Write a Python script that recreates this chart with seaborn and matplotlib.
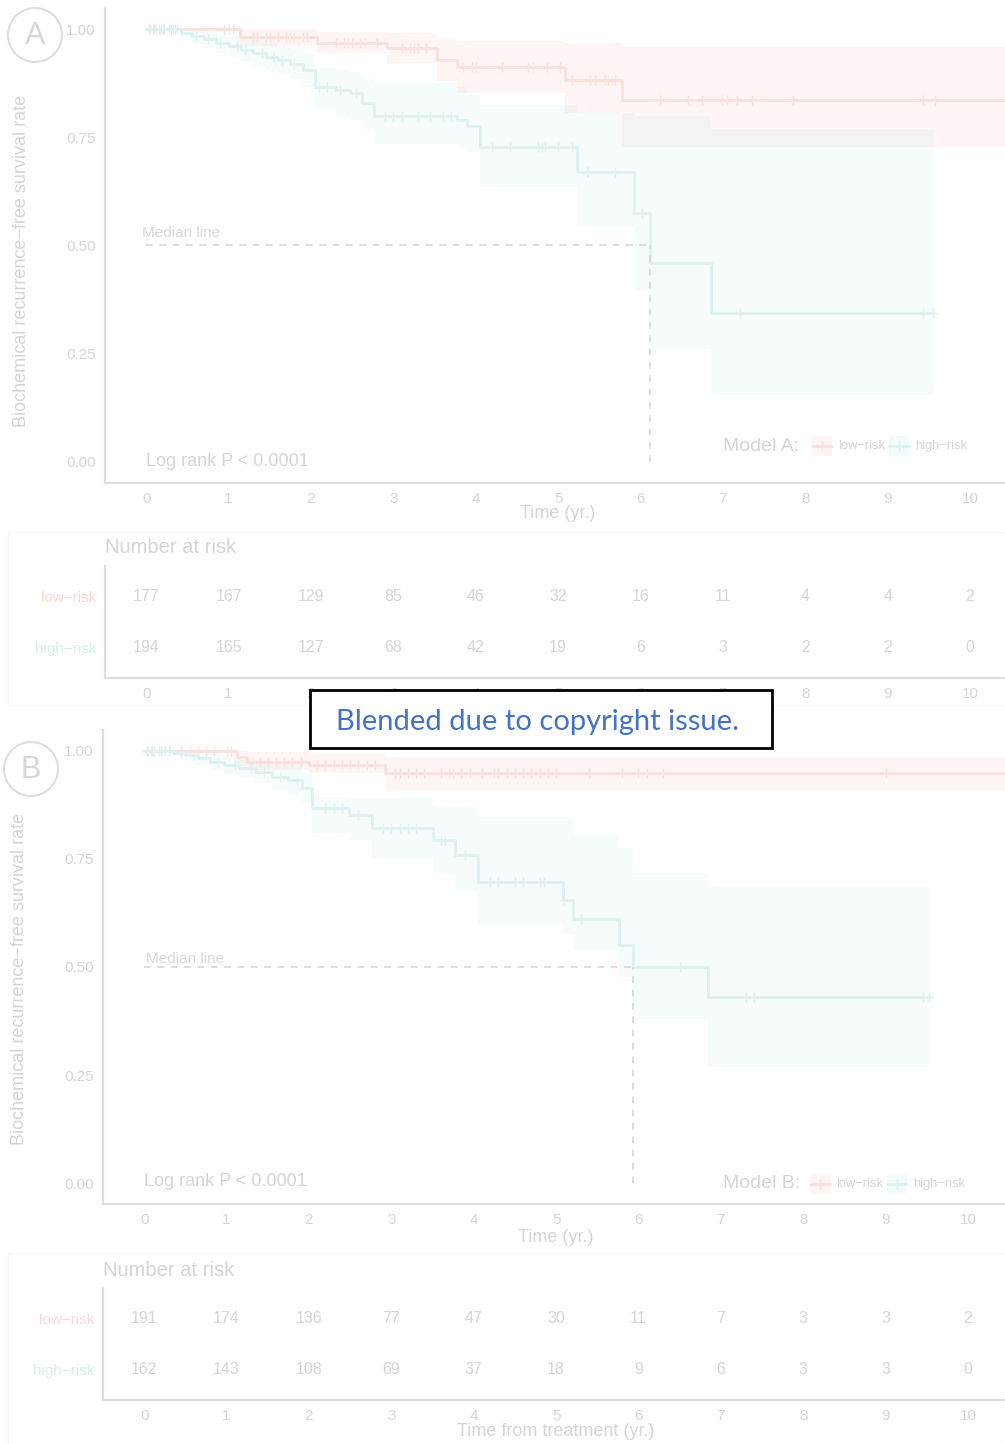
import numpy as np
import matplotlib.pyplot as plt
import seaborn as sns
from matplotlib.patches import Rectangle, Ellipse

sns.set_style("white")
plt.rcParams['font.family'] = ['Liberation Sans', 'DejaVu Sans']

# ---------------- data ----------------
years = list(range(0, 11))

# Model A, low-risk
a_low_t = [0, 1.14, 2.07, 2.92, 3.53, 3.77, 5.08, 5.78]
a_low_s = [1.0, 0.982, 0.967, 0.957, 0.928, 0.913, 0.882, 0.836]
a_low_lo = [1.0, 0.960, 0.945, 0.921, 0.880, 0.853, 0.806, 0.727]
a_low_hi = [1.0, 1.0, 0.993, 0.990, 0.979, 0.973, 0.967, 0.958]
a_low_end = 10.6
a_low_cens = [0.05, 0.1, 0.15, 0.2, 0.3, 0.35, 0.95, 1.0, 1.05, 1.3, 1.35, 1.45, 1.5,
              1.6, 1.7, 1.75, 1.8, 1.9, 1.95, 2.3, 2.4, 2.45, 2.5, 2.6, 2.65, 2.8,
              3.1, 3.2, 3.25, 3.3, 3.4, 3.85, 3.95, 4.0, 4.32, 4.64, 4.7, 4.87, 5.02,
              5.17, 5.39, 5.45, 5.57, 5.61, 5.66, 5.69, 6.24, 6.58, 6.75, 6.99, 7.05,
              7.17, 7.35, 7.85, 9.43, 9.57]

# Model A, high-risk
a_high_t = [0, 0.42, 0.55, 0.7, 0.85, 1.0, 1.15, 1.3, 1.45, 1.6, 1.75, 1.9, 2.05,
            2.3, 2.48, 2.62, 2.76, 3.77, 3.9, 4.05, 5.23, 5.92, 6.12, 6.86]
a_high_s = [1.0, 0.99, 0.983, 0.976, 0.968, 0.96, 0.952, 0.944, 0.936, 0.928, 0.92,
            0.905, 0.866, 0.858, 0.852, 0.83, 0.80, 0.79, 0.775, 0.727, 0.67, 0.575,
            0.46, 0.344]
a_high_lo = [1.0, 0.975, 0.965, 0.955, 0.945, 0.935, 0.925, 0.915, 0.905, 0.895,
             0.885, 0.865, 0.815, 0.80, 0.79, 0.77, 0.735, 0.725, 0.715, 0.635,
             0.545, 0.397, 0.26, 0.155]
a_high_hi = [1.0, 1.0, 0.998, 0.995, 0.99, 0.985, 0.98, 0.975, 0.968, 0.96, 0.952,
             0.94, 0.91, 0.905, 0.90, 0.885, 0.875, 0.865, 0.85, 0.825, 0.806, 0.80,
             0.80, 0.77]
a_high_end = 9.55
a_high_cens = [0.03, 0.08, 0.12, 0.18, 0.22, 0.28, 0.33, 0.38, 0.6, 0.75, 0.9, 1.1,
               1.2, 1.4, 1.55, 1.65, 1.8, 2.1, 2.2, 2.35, 2.55, 2.9, 3.0, 3.1, 3.3,
               3.45, 3.6, 3.7, 4.2, 4.42, 4.75, 4.81, 4.84, 5.0, 5.17, 5.35, 5.36,
               5.69, 6.02, 7.21, 9.43, 9.55]

a_low_risk = [177, 167, 129, 85, 46, 32, 16, 11, 4, 4, 2]
a_high_risk = [194, 165, 127, 68, 42, 19, 6, 3, 2, 2, 0]

# Model B, low-risk
b_low_t = [0, 1.13, 1.25, 2.0, 2.92]
b_low_s = [1.0, 0.985, 0.975, 0.968, 0.949]
b_low_lo = [1.0, 0.965, 0.955, 0.950, 0.910]
b_low_hi = [1.0, 1.0, 0.998, 0.994, 0.986]
b_low_end = 10.6
b_low_cens = [0.05, 0.1, 0.2, 0.3, 0.45, 0.55, 0.65, 0.75, 0.85, 1.0, 1.05, 1.4, 1.5,
              1.6, 1.7, 1.8, 1.9, 2.1, 2.2, 2.3, 2.4, 2.5, 2.6, 2.7, 2.8, 3.05, 3.1,
              3.2, 3.3, 3.4, 3.6, 3.7, 3.75, 3.85, 3.95, 4.1, 4.25, 4.3, 4.4, 4.5,
              4.6, 4.7, 4.8, 4.9, 5.0, 5.4, 5.8, 6.0, 6.1, 6.3, 9.0]

# Model B, high-risk
b_high_t = [0, 0.35, 0.5, 0.65, 0.8, 0.97, 1.15, 1.35, 1.55, 1.75, 1.92, 2.04, 2.49,
            2.77, 3.5, 3.77, 4.05, 5.08, 5.21, 5.76, 5.93, 6.84]
b_high_s = [1.0, 0.995, 0.99, 0.983, 0.975, 0.967, 0.96, 0.952, 0.94, 0.932, 0.915,
            0.868, 0.852, 0.822, 0.794, 0.76, 0.697, 0.656, 0.61, 0.552, 0.499, 0.43]
b_high_lo = [1.0, 0.985, 0.977, 0.968, 0.957, 0.947, 0.937, 0.926, 0.91, 0.90, 0.88,
             0.81, 0.794, 0.753, 0.718, 0.675, 0.598, 0.575, 0.54, 0.478, 0.38, 0.268]
b_high_hi = [1.0, 1.0, 1.0, 0.998, 0.994, 0.988, 0.983, 0.978, 0.97, 0.964, 0.95,
             0.894, 0.89, 0.89, 0.87, 0.87, 0.848, 0.848, 0.806, 0.776, 0.718, 0.686]
b_high_end = 9.53
b_high_cens = [0.03, 0.08, 0.12, 0.18, 0.25, 0.45, 0.6, 0.9, 1.1, 1.3, 1.45, 1.65,
               1.85, 2.2, 2.3, 2.4, 2.6, 2.9, 3.0, 3.1, 3.2, 3.3, 3.6, 3.65, 3.9, 4.2,
               4.3, 4.5, 4.6, 4.8, 4.85, 5.1, 5.3, 6.5, 7.3, 7.4, 9.45, 9.53]

b_low_risk = [191, 174, 136, 77, 47, 30, 11, 7, 3, 3, 2]
b_high_risk = [162, 143, 108, 69, 37, 18, 9, 6, 3, 3, 0]

# ---------------- styling ----------------
W, H = 1005, 1444
RED_LINE, BLUE_LINE = '#fbe0dc', '#ddf1f3'
RED, BLUE = '#F8766D', '#00BFC4'
GREY = '#d5d5d5'
SPINE = '#dedede'

fig = plt.figure(figsize=(W / 100, H / 100), dpi=100)


def px_axes(l, t, r, b):
    return fig.add_axes([l / W, 1 - b / H, (r - l) / W, (b - t) / H])


def ftext(x, y, s, **kw):
    fig.text(x / W, 1 - y / H, s, **kw)


def step_at(t, s, q):
    idx = np.searchsorted(np.asarray(t), np.asarray(q), side='right') - 1
    return np.asarray(s)[idx]


def style_axes(ax):
    sns.despine(ax=ax)
    for sp in ['left', 'bottom']:
        ax.spines[sp].set_color(SPINE)
        ax.spines[sp].set_linewidth(1.5)
    ax.tick_params(colors=SPINE, labelcolor=GREY, length=3, width=1, labelsize=11)


def km_panel(ax, groups, x0):
    # groups: list of (t, s, lo, hi, end, cens, linecol, bandcol, band_alpha)
    for t, s, lo, hi, end, cens, lc, bc, ba in groups:
        tt = list(t) + [end]
        ax.fill_between(tt, list(lo) + [lo[-1]], list(hi) + [hi[-1]], step='post',
                        color=bc, alpha=ba, lw=0)
    for t, s, lo, hi, end, cens, lc, bc, ba in groups:
        tt = list(t) + [end]
        ss = list(s) + [s[-1]]
        sns.lineplot(x=tt, y=ss, drawstyle='steps-post', estimator=None, sort=False,
                     color=lc, lw=2, ax=ax)
        sns.scatterplot(x=cens, y=step_at(t, s, cens), marker='+', s=45, color=lc,
                        linewidth=1, ax=ax, legend=False)
    # median line from the high-risk curve
    t, s = groups[1][0], groups[1][1]
    med = t[int(np.argmax(np.asarray(s) <= 0.5))]
    ax.plot([0, med], [0.5, 0.5], ls=(0, (4, 4)), color='#d6d6d6', lw=1.2)
    ax.plot([med, med], [0, 0.5], ls=(0, (4, 4)), color='#d6d6d6', lw=1.2)
    ax.set_xlim(-0.5, (1005 - x0) / 82.4)
    ax.set_ylim(-0.0485, 1.0485)
    ax.set_xticks(years)
    ax.set_yticks([0, 0.25, 0.5, 0.75, 1.0])
    ax.set_yticklabels(['0.00', '0.25', '0.50', '0.75', '1.00'])
    ax.set_xlabel('')
    ax.set_ylabel('')
    style_axes(ax)


def risk_panel(ax, low, high, x0):
    for x, n1, n2 in zip(years, low, high):
        ax.text(x, 2, str(n1), ha='center', va='center', color=GREY, fontsize=11.5)
        ax.text(x, 1, str(n2), ha='center', va='center', color=GREY, fontsize=11.5)
    ax.set_xlim(-0.5, (1005 - x0) / 82.4)
    ax.set_ylim(0.4, 2.6)
    ax.set_xticks(years)
    ax.set_yticks([1, 2])
    ax.set_yticklabels(['high\u2212risk', 'low\u2212risk'])
    style_axes(ax)
    ax.tick_params(axis='y', labelsize=11)
    ax.get_yticklabels()[0].set_color('#d4eff1')
    ax.get_yticklabels()[1].set_color('#fad8d4')


def legend_keys(label, xl, y, kx):
    ftext(xl, y, label, fontsize=14, color=GREY, va='center', ha='left')
    for (k, lab, lc, bc, ba) in [(kx, 'low\u2212risk', RED_LINE, RED, 0.08),
                                 (kx + 77, 'high\u2212risk', BLUE_LINE, BLUE, 0.05)]:
        fig.patches.append(Rectangle((k / W, 1 - (y + 10) / H), 20 / W, 20 / H,
                                     transform=fig.transFigure, color=bc, alpha=ba,
                                     lw=0))
        fig.lines.append(plt.Line2D([k / W, (k + 20) / W], [1 - y / H, 1 - y / H],
                                    transform=fig.transFigure, color=lc, lw=2))
        fig.lines.append(plt.Line2D([(k + 10) / W], [1 - y / H], marker='+', ms=7,
                                    mew=1, transform=fig.transFigure, color=lc))
        ftext(k + 26, y, lab, fontsize=9.3, color=GREY, va='center', ha='left')


def panel_letter(cx, cy, letter):
    fig.patches.append(Ellipse((cx / W, 1 - cy / H), 54 / W, 54 / H,
                               transform=fig.transFigure, fill=False,
                               edgecolor='#dedede', lw=1.5))
    ftext(cx, cy + 1, letter, fontsize=22, color='#d6d6d6', ha='center', va='center')


# ---------------- panel A ----------------
axA = px_axes(105, 8, 1005, 483)
km_panel(axA, [
    (a_low_t, a_low_s, a_low_lo, a_low_hi, a_low_end, a_low_cens, RED_LINE, RED, 0.07),
    (a_high_t, a_high_s, a_high_lo, a_high_hi, a_high_end, a_high_cens, BLUE_LINE, BLUE, 0.035),
], 146)
axA_r = px_axes(105, 566, 1005, 678)
risk_panel(axA_r, a_low_risk, a_high_risk, 146)

ftext(22, 261, 'Biochemical recurrence\u2212free survival rate', rotation=90,
      fontsize=13, color=GREY, ha='center', va='center')
ftext(558, 513, 'Time (yr.)', fontsize=13, color=GREY, ha='center', va='center')
ftext(146, 461, 'Log rank P < 0.0001', fontsize=13, color=GREY, ha='left', va='center')
ftext(142, 233, 'Median line', fontsize=11, color='#d8d8d8', ha='left', va='center')
ftext(105, 548, 'Number at risk', fontsize=14.5, color=GREY, ha='left', va='center')
legend_keys('Model A:', 723, 446, 812)
panel_letter(35, 35, 'A')

# ---------------- panel B ----------------
axB = px_axes(103, 730, 1005, 1204)
km_panel(axB, [
    (b_low_t, b_low_s, b_low_lo, b_low_hi, b_low_end, b_low_cens, RED_LINE, RED, 0.07),
    (b_high_t, b_high_s, b_high_lo, b_high_hi, b_high_end, b_high_cens, BLUE_LINE, BLUE, 0.035),
], 144)
axB_r = px_axes(103, 1288, 1005, 1400)
risk_panel(axB_r, b_low_risk, b_high_risk, 144)

ftext(20, 979, 'Biochemical recurrence\u2212free survival rate', rotation=90,
      fontsize=13, color=GREY, ha='center', va='center')
ftext(556, 1237, 'Time (yr.)', fontsize=13, color=GREY, ha='center', va='center')
ftext(556, 1431, 'Time from treatment (yr.)', fontsize=13, color=GREY, ha='center',
      va='center')
ftext(144, 1182, 'Log rank P < 0.0001', fontsize=13, color=GREY, ha='left', va='center')
ftext(146, 959, 'Median line', fontsize=11, color='#d8d8d8', ha='left', va='center')
ftext(103, 1270, 'Number at risk', fontsize=14.5, color=GREY, ha='left', va='center')
legend_keys('Model B:', 723, 1184, 810)
panel_letter(31, 769, 'B')

# faint frames around the risk tables
for top, bot in [(532, 705), (1253, 1444)]:
    fig.patches.append(Rectangle((8 / W, 1 - bot / H), (W - 8) / W, (bot - top) / H,
                                 transform=fig.transFigure, fill=False,
                                 edgecolor='#f6f6f6', lw=1))

# copyright box
fig.patches.append(Rectangle((310 / W, 1 - 748 / H), 462 / W, 58 / H,
                             transform=fig.transFigure, facecolor='white',
                             edgecolor='black', lw=2, zorder=10))
ftext(537, 722, 'Blended due to copyright issue.', fontsize=21, color='#4472C4',
      family=['Lato', 'DejaVu Sans'], ha='center', va='center', zorder=11)

fig.savefig('out.png', dpi=100)
